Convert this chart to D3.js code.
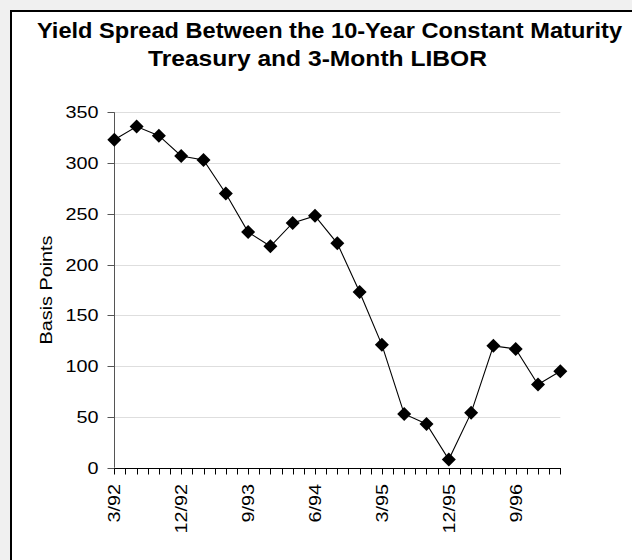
<!DOCTYPE html>
<html>
<head>
<meta charset="utf-8">
<script src="https://cdn.jsdelivr.net/npm/d3@7"></script>
<style>
  html, body { margin: 0; padding: 0; background: #f0f0f0; }
  svg { display: block; }
  text { font-family: "Liberation Sans", Arial, sans-serif; fill: #000; }
</style>
</head>
<body>
<svg id="chart" width="632" height="560"></svg>
<script>
// Quarterly observations, 3/92 through 3/97
const quarters = ["3/92","6/92","9/92","12/92","3/93","6/93","9/93","12/93",
                  "3/94","6/94","9/94","12/94","3/95","6/95","9/95","12/95",
                  "3/96","6/96","9/96","12/96","3/97"];
// Spread in basis points
const spreadBp = [323, 336, 327, 307, 303, 270, 232, 218, 241, 248, 221, 173,
                  121, 53, 43, 8, 54, 120, 117, 82, 95];
// Every third quarter carries a label
const labeledQuarters = ["3/92","12/92","9/93","6/94","3/95","12/95","9/96"];
const yTicks = [0, 50, 100, 150, 200, 250, 300, 350];
const titleLines = ["Yield Spread Between the 10-Year Constant Maturity",
                    "Treasury and 3-Month LIBOR"];
const yTitle = "Basis Points";

const svg = d3.select("#chart");
const W = 632, H = 560;
const stretch = 1.18;
const labelSize = 16.8;

// framed white panel
svg.append("rect")
  .attr("x", 11).attr("y", 11)
  .attr("width", W - 11 + 10).attr("height", H)
  .attr("fill", "#fff").attr("stroke", "#000").attr("stroke-width", 2);

// title
const titleSpec = [
  { x0: 37, x1: 622, y: 38 },
  { x0: 148, x1: 487, y: 66 }
];
titleLines.forEach((t, i) => {
  const s = titleSpec[i];
  svg.append("text")
    .attr("x", s.x0).attr("y", s.y)
    .attr("font-size", 22.5).attr("font-weight", "bold")
    .attr("textLength", s.x1 - s.x0)
    .attr("lengthAdjust", "spacingAndGlyphs")
    .text(t);
});

const x = d3.scaleLinear().domain([0, quarters.length - 1]).range([114.3, 560.3]);
const y = d3.scaleLinear().domain([0, 350]).range([467.7, 112.3]);

// gridlines
svg.append("g")
  .selectAll("line")
  .data(yTicks.filter(v => v > 0))
  .join("line")
  .attr("x1", x(0)).attr("x2", x(quarters.length - 1))
  .attr("y1", d => Math.round(y(d)) + 0.5).attr("y2", d => Math.round(y(d)) + 0.5)
  .attr("stroke", "#dedede").attr("stroke-width", 1);

// y axis
const yAxisX = Math.round(x(0)) + 0.5;
svg.append("line")
  .attr("x1", yAxisX).attr("x2", yAxisX)
  .attr("y1", y(350)).attr("y2", y(0))
  .attr("stroke", "#555").attr("stroke-width", 1);
const yt = svg.append("g").selectAll("g").data(yTicks).join("g");
yt.append("line")
  .attr("x1", yAxisX - 7).attr("x2", yAxisX)
  .attr("y1", d => Math.round(y(d)) + 0.5).attr("y2", d => Math.round(y(d)) + 0.5)
  .attr("stroke", "#555");
yt.append("text")
  .attr("transform", d => `translate(98.5,${y(d)}) scale(${stretch},1)`)
  .attr("text-anchor", "end").attr("dy", "0.36em")
  .attr("font-size", labelSize)
  .text(d => d);

// y title
svg.append("text")
  .attr("transform", `translate(52,290) rotate(-90) scale(${stretch},1)`)
  .attr("text-anchor", "middle")
  .attr("font-size", labelSize)
  .text(yTitle);

// x axis with a tick at every half quarter
const xAxisY = Math.round(y(0)) + 0.5;
const lastIdx = quarters.length - 1;
svg.append("line")
  .attr("x1", x(0)).attr("x2", Math.round(x(lastIdx)) + 1)
  .attr("y1", xAxisY).attr("y2", xAxisY)
  .attr("stroke", "#000");
const halfSteps = d3.range(0, lastIdx * 2 + 1).map(k => k / 2);
svg.append("g").selectAll("line").data(halfSteps).join("line")
  .attr("x1", d => Math.round(x(d)) + 0.5).attr("x2", d => Math.round(x(d)) + 0.5)
  .attr("y1", xAxisY).attr("y2", xAxisY + 6)
  .attr("stroke", "#000");

svg.append("g").selectAll("text")
  .data(labeledQuarters)
  .join("text")
  .attr("transform", d => `translate(${x(quarters.indexOf(d))},484) rotate(-90) scale(${stretch},1)`)
  .attr("text-anchor", "end").attr("dy", "0.36em")
  .attr("font-size", labelSize)
  .text(d => d);

// series line and diamond markers
const line = d3.line().x((d, i) => x(i)).y(d => y(d));
svg.append("path")
  .datum(spreadBp)
  .attr("d", line)
  .attr("fill", "none").attr("stroke", "#000").attr("stroke-width", 1.1);

svg.append("g").selectAll("path")
  .data(spreadBp)
  .join("path")
  .attr("transform", (d, i) => `translate(${x(i)},${y(d)})`)
  .attr("d", "M0,-7L7,0L0,7L-7,0Z")
  .attr("fill", "#000");
</script>
</body>
</html>
